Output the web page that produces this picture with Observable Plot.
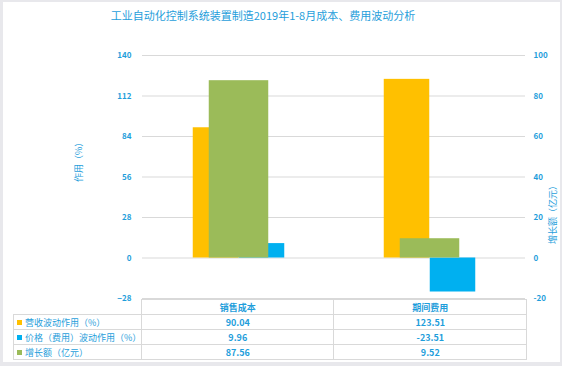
<!DOCTYPE html>
<html><head><meta charset="utf-8">
<script src="https://cdn.jsdelivr.net/npm/d3@7"></script>
<script src="https://cdn.jsdelivr.net/npm/@observablehq/plot@0.6"></script>
<style>
html,body{margin:0;padding:0;background:#e8e8ec;}
#wrap{position:relative;width:562px;height:366px;background:#e8e8ec;font-family:"Noto Sans CJK SC","Noto Sans",sans-serif;color:#1F9EDB;overflow:hidden}
#panel{position:absolute;left:3px;top:2px;width:557px;height:360px;background:#fff;}
#title{position:absolute;left:0;top:7px;width:526px;text-align:center;font-size:11px;line-height:16px;color:#1F9EDB;}
#chart{position:absolute;left:0;top:0;}
#tbl{position:absolute;left:13px;top:299px;border-collapse:collapse;table-layout:fixed;font-size:9px;}
#tbl td{border:1px solid #d9d9d9;padding:0;height:14px;line-height:13px;white-space:nowrap;overflow:hidden}
#tbl td.v{text-align:center;font-weight:bold}
#tbl td.lab{padding-left:3px}
#tbl td.blank{border-top:none;border-left:none}
.sw{display:inline-block;width:5px;height:5px;margin-right:3px;vertical-align:1px}
</style></head>
<body>
<div id="wrap">
  <div id="panel"></div>
  <div id="chart"></div>
  <div id="title">工业自动化控制系统装置制造2019年1-8月成本、费用波动分析</div>
  <table id="tbl"></table>
</div>
<script>
const title = "工业自动化控制系统装置制造2019年1-8月成本、费用波动分析";
const categories = ["销售成本", "期间费用"];
const seriesNames = ["营收波动作用（%）", "价格（费用）波动作用（%）", "增长额（亿元）"];
const revenueEffect = [90.04, 123.51];
const priceEffect = [9.96, -23.51];
const growth = [87.56, 9.52];
const leftTicks = [-28, 0, 28, 56, 84, 112, 140];
const rightTicks = [-20, 0, 20, 40, 60, 80, 100];
const leftAxisTitle = "作用（%）";
const rightAxisTitle = "增长额（亿元）";
const colors = ["#FFC000", "#00B0F0", "#9BBB59"];

const ratio = leftTicks[leftTicks.length - 1] / rightTicks[rightTicks.length - 1];
const rows = categories.map((c, i) => ({c, rev: revenueEffect[i], price: priceEffect[i], growth: growth[i], growthScaled: growth[i] * ratio}));

const textColor = "#1F9EDB";
const plot = Plot.plot({
  width: 562, height: 366,
  marginLeft: 142, marginRight: 37, marginTop: 55, marginBottom: 68,
  style: {background: "none", fontFamily: '"Noto Sans CJK SC","Noto Sans",sans-serif', color: textColor},
  x: {domain: categories, padding: 0, axis: null},
  y: {domain: [leftTicks[0], leftTicks[leftTicks.length - 1]], axis: null},
  marks: [
    Plot.gridY(leftTicks, {stroke: "#d9d9d9", strokeOpacity: 1}),
    Plot.barY(rows, {x: "c", y: "rev", fill: colors[0], insetLeft: 49.75, insetRight: 95.75}),
    Plot.barY(rows, {x: "c", y: "price", fill: colors[1], insetLeft: 95.75, insetRight: 49.75}),
    Plot.barY(rows, {x: "c", y: "growthScaled", fill: colors[2], insetLeft: 65.75, insetRight: 65.75}),
    Plot.axisY({ticks: leftTicks, tickSize: 0, tickPadding: 11, fontSize: 8, fontWeight: "bold", fill: textColor, label: null}),
    Plot.axisY({anchor: "right", ticks: leftTicks, tickFormat: (d) => rightTicks[leftTicks.indexOf(d)], tickSize: 0, tickPadding: 8, fontSize: 8, fontWeight: "bold", fill: textColor, label: null}),
    Plot.text([leftAxisTitle], {frameAnchor: "left", dx: -63, dy: 5, rotate: -90, fontSize: 9, fill: textColor}),
    Plot.text([rightAxisTitle], {frameAnchor: "right", dx: 28, dy: 4, rotate: -90, fontSize: 9, fill: textColor})
  ]
});
document.getElementById("chart").appendChild(plot);
document.getElementById("title").textContent = title;

const tbl = document.getElementById("tbl");
const colW = [128, 192, 193];
let html = "<colgroup>" + colW.map(w => `<col style="width:${w}px">`).join("") + "</colgroup>";
html += `<tr><td class="blank"></td>` + categories.map(c => `<td class="v">${c}</td>`).join("") + "</tr>";
const vals = [revenueEffect, priceEffect, growth];
seriesNames.forEach((s, i) => {
  html += `<tr><td class="lab"><span class="sw" style="background:${colors[i]}"></span>${s}</td>` +
    vals[i].map(v => `<td class="v">${v.toFixed(2)}</td>`).join("") + "</tr>";
});
tbl.innerHTML = html;
</script>
</body></html>
